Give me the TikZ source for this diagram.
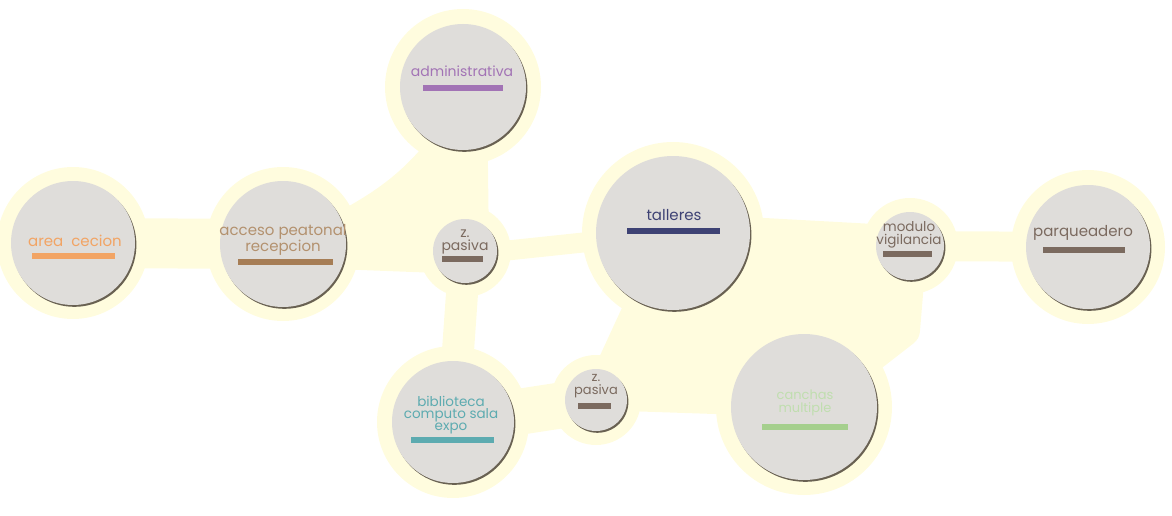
\documentclass[tikz,border=0pt]{standalone}
\usepackage{fontspec}
\setmainfont{Poppins}
\usetikzlibrary{positioning,calc,shadows}
\definecolor{crema}{HTML}{FFFCDE}
\definecolor{disco}{HTML}{DFDDDA}
\definecolor{sombra}{HTML}{4F473A}
\definecolor{naranja}{HTML}{F2A464}
\definecolor{cafe}{HTML}{A67D55}
\definecolor{lila}{HTML}{A273B5}
\definecolor{pardo}{HTML}{7B6A5F}
\definecolor{marino}{HTML}{3E4274}
\definecolor{turq}{HTML}{5DABB0}
\definecolor{verde}{HTML}{A5CF8D}
\begin{document}
\begin{tikzpicture}[x=1pt,y=-1pt,
    disc/.style={circle, fill=disco, inner sep=0pt, minimum size=#1,
      drop shadow={shadow xshift=1.4pt, shadow yshift=-1.8pt, fill=sombra, opacity=.85}},
    lbl/.style={align=center, inner sep=0pt, font=\fontsize{15}{15}\selectfont},
    barra/.style={rectangle, inner sep=0pt, minimum height=5.5pt, minimum width=#1},
    cuello/.style={crema, line width=#1, line cap=round, line join=round}]
    \useasboundingbox (0,0) rectangle (1172,516);
    % centros
    \coordinate (area) at (73,243);
    \coordinate (acceso) at (283,244);
    \coordinate (admin) at (463,87);
    \coordinate (pas1) at (465,251);
    \coordinate (tall) at (673,233);
    \coordinate (bibl) at (453,422);
    \coordinate (pas2) at (596,400);
    \coordinate (canc) at (804,407);
    \coordinate (modu) at (910,246);
    \coordinate (parq) at (1088,247);
    \coordinate (codo) at (903,330);
    % fondo crema
    \fill[crema] (pas2) -- (tall) -- (modu) -- (codo) -- (canc) -- cycle;
    \fill[crema] (admin) .. controls (405,192) and (355,198) .. (acceso) -- (pas1) -- cycle;
    \draw[cuello=50] (area) -- (acceso);
    \draw[cuello=46] (acceso) -- (pas1);
    \draw[cuello=48] (admin) -- (pas1);
    \draw[cuello=20] ($(pas1)+(0,4)$) -- (tall);
    \draw[cuello=32] (pas1) -- (bibl);
    \draw[cuello=46] (bibl) -- (pas2);
    \draw[cuello=20] (pas2) -- (canc);
    \draw[cuello=30] (pas2) -- (tall);
    \draw[cuello=40] (tall) -- (modu);
    \draw[cuello=34] (modu) -- (codo) -- (canc);
    \draw[cuello=30] (modu) -- (parq);
    \fill[crema] (area) circle (76) (acceso) circle (77) (admin) circle (78)
      (pas1) circle (46) (tall) circle (91) (bibl) circle (76) (pas2) circle (45)
      (canc) circle (88) (modu) circle (48) (parq) circle (77);
    % discos
    \node[disc=124] (nArea) at (area) {};
    \node[disc=126] (nAcceso) at (acceso) {};
    \node[disc=126] (nAdmin) at (admin) {};
    \node[disc=64] (nPas1) at (pas1) {};
    \node[disc=154] (nTall) at (tall) {};
    \node[disc=122] (nBibl) at (bibl) {};
    \node[disc=62] (nPas2) at (pas2) {};
    \node[disc=146] (nCanc) at (canc) {};
    \node[disc=68] (nModu) at (modu) {};
    \node[disc=124] (nParq) at (parq) {};
    % textos
    \node[lbl, text=naranja] (tArea) at (75,241) {area\ \ cecion};
    \node[barra=83, fill=naranja] (bArea) at (73,256) {};
    \node[lbl, text=cafe!85] (tAcceso) at (283,240) {acceso peatonal\\recepcion};
    \node[barra=95, fill=cafe] (bAcceso) at (285,262) {};
    \node[lbl, text=lila, font=\fontsize{14}{14}\selectfont] (tAdmin) at (462,71) {administrativa};
    \node[barra=80, fill=lila] (bAdmin) at (463,88) {};
    \node[lbl, text=pardo, font=\fontsize{14}{13.5}\selectfont] (tPas1) at (465,242) {z.\\pasiva};
    \node[barra=41, fill=pardo] (bPas1) at (462,259) {};
    \node[lbl, text=marino] (tTall) at (674,215) {talleres};
    \node[barra=93, fill=marino] (bTall) at (673,231) {};
    \node[lbl, text=turq, font=\fontsize{13.5}{12}\selectfont] (tBibl) at (451,415) {biblioteca\\computo sala\\expo};
    \node[barra=83, fill=turq] (bBibl) at (452,440) {};
    \node[lbl, text=pardo, font=\fontsize{13}{12.5}\selectfont] (tPas2) at (596,386) {z.\\pasiva};
    \node[barra=33, fill=pardo] (bPas2) at (594,406) {};
    \node[lbl, text=verde!70, font=\fontsize{13}{12.5}\selectfont] (tCanc) at (805,403) {canchas\\multiple};
    \node[barra=86, fill=verde] (bCanc) at (805,427) {};
    \node[lbl, text=pardo, font=\fontsize{13.5}{12.5}\selectfont] (tModu) at (909,235) {modulo\\vigilancia};
    \node[barra=49, fill=pardo] (bModu) at (907,254) {};
    \node[lbl, text=pardo] (tParq) at (1083,233) {parqueadero};
    \node[barra=82, fill=pardo] (bParq) at (1084,250) {};
\end{tikzpicture}
\end{document}
